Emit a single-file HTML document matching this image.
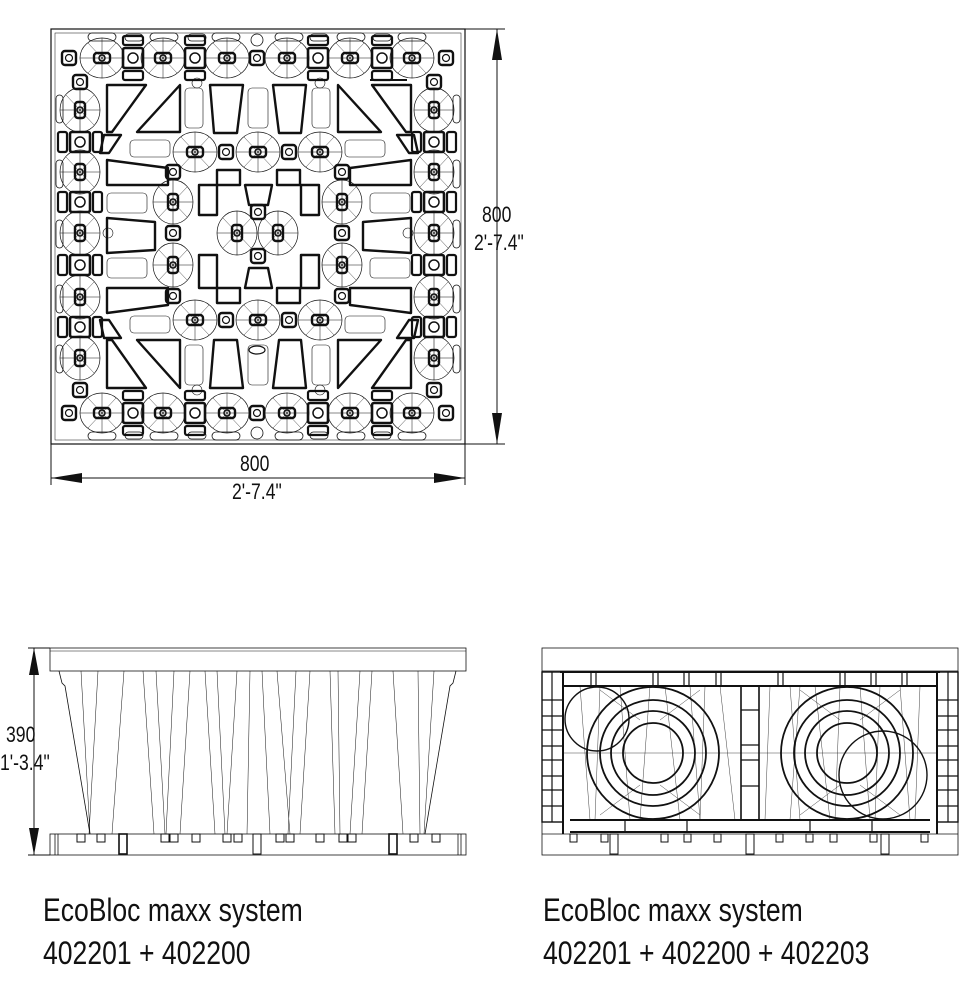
<!DOCTYPE html>
<html><head><meta charset="utf-8"><style>
html,body{margin:0;padding:0;background:#fff;}
body{width:973px;height:993px;position:relative;overflow:hidden;}
.t{position:absolute;font-family:"Liberation Sans",sans-serif;color:#111;white-space:nowrap;transform-origin:0 0;}
.d{font-size:22px;transform:scaleX(0.8);}
.c{font-size:32px;transform:scaleX(0.83);}
</style></head><body>
<svg width="973" height="993" viewBox="0 0 973 993" style="position:absolute;left:0;top:0" fill="none" stroke="#111">
<defs>
<g id="nd"><ellipse rx="22" ry="20" stroke-width="0.7"/><line x1="-22" y1="0" x2="22" y2="0" stroke-width="0.6"/><line x1="0" y1="-20" x2="0" y2="20" stroke-width="0.5"/><line x1="-14" y1="-15" x2="14" y2="15" stroke-width="0.4"/><line x1="-14" y1="15" x2="14" y2="-15" stroke-width="0.4"/><rect x="-8" y="-5" width="16" height="10" rx="3" stroke-width="2.4"/><circle r="3" stroke-width="1.5"/></g>
<g id="ndv"><ellipse rx="20" ry="22" stroke-width="0.7"/><line x1="0" y1="-22" x2="0" y2="22" stroke-width="0.6"/><line x1="-20" y1="0" x2="20" y2="0" stroke-width="0.5"/><line x1="-14" y1="-15" x2="14" y2="15" stroke-width="0.4"/><line x1="-14" y1="15" x2="14" y2="-15" stroke-width="0.4"/><rect x="-5" y="-8" width="10" height="16" rx="3" stroke-width="2.4"/><circle r="3" stroke-width="1.5"/></g>
<g id="sq"><rect x="-10" y="-10" width="20" height="20" rx="2" stroke-width="2.6"/><circle r="5" stroke-width="1.5"/><rect x="-10" y="-22" width="20" height="9" rx="2" stroke-width="2.2"/><rect x="-10" y="13" width="20" height="9" rx="2" stroke-width="2.2"/></g>
<g id="sqh"><rect x="-10" y="-10" width="20" height="20" rx="2" stroke-width="2.6"/><circle r="5" stroke-width="1.5"/><rect x="-22" y="-10" width="9" height="20" rx="2" stroke-width="2.2"/><rect x="13" y="-10" width="9" height="20" rx="2" stroke-width="2.2"/></g>
<g id="sm"><rect x="-7" y="-7" width="14" height="14" rx="3" stroke-width="2.4"/><circle r="3.5" stroke-width="1.2"/></g>
</defs>

<rect x="51" y="29" width="414" height="415" stroke-width="1.2"/>
<rect x="55" y="33" width="406" height="407" stroke-width="0.5"/>
<g>
<use href="#nd" x="102" y="58"/><use href="#nd" x="163" y="58"/><use href="#nd" x="227" y="58"/><use href="#nd" x="287" y="58"/><use href="#nd" x="350" y="58"/><use href="#nd" x="412" y="58"/>
<use href="#sq" x="133" y="58"/><use href="#sq" x="195" y="58"/><use href="#sm" x="257" y="58"/><use href="#sq" x="318" y="58"/><use href="#sq" x="382" y="58"/>
<use href="#nd" x="102" y="413"/><use href="#nd" x="163" y="413"/><use href="#nd" x="227" y="413"/><use href="#nd" x="287" y="413"/><use href="#nd" x="350" y="413"/><use href="#nd" x="412" y="413"/>
<use href="#sq" x="133" y="413"/><use href="#sq" x="195" y="413"/><use href="#sm" x="257" y="413"/><use href="#sq" x="318" y="413"/><use href="#sq" x="382" y="413"/>
<use href="#ndv" x="80" y="110"/><use href="#ndv" x="80" y="172"/><use href="#ndv" x="80" y="233"/><use href="#ndv" x="80" y="297"/><use href="#ndv" x="80" y="358"/>
<use href="#sqh" x="80" y="142"/><use href="#sqh" x="80" y="202"/><use href="#sqh" x="80" y="265"/><use href="#sqh" x="80" y="327"/>
<use href="#ndv" x="434" y="110"/><use href="#ndv" x="434" y="172"/><use href="#ndv" x="434" y="233"/><use href="#ndv" x="434" y="297"/><use href="#ndv" x="434" y="358"/>
<use href="#sqh" x="434" y="142"/><use href="#sqh" x="434" y="202"/><use href="#sqh" x="434" y="265"/><use href="#sqh" x="434" y="327"/>
<use href="#sm" x="69" y="58"/><use href="#sm" x="446" y="58"/><use href="#sm" x="69" y="413"/><use href="#sm" x="446" y="413"/>
<use href="#sm" x="80" y="82"/><use href="#sm" x="434" y="82"/><use href="#sm" x="80" y="390"/><use href="#sm" x="434" y="390"/>
<g stroke-width="0.8">
<rect x="88" y="33" width="28" height="8" rx="4"/><rect x="125" y="34" width="18" height="7" rx="3.5"/><rect x="150" y="33" width="28" height="8" rx="4"/><rect x="188" y="34" width="18" height="7" rx="3.5"/><rect x="212" y="33" width="28" height="8" rx="4"/>
<rect x="275" y="33" width="28" height="8" rx="4"/><rect x="310" y="34" width="18" height="7" rx="3.5"/><rect x="337" y="33" width="28" height="8" rx="4"/><rect x="373" y="34" width="18" height="7" rx="3.5"/><rect x="398" y="33" width="28" height="8" rx="4"/>
<rect x="88" y="432" width="28" height="8" rx="4"/><rect x="125" y="432" width="18" height="7" rx="3.5"/><rect x="150" y="432" width="28" height="8" rx="4"/><rect x="188" y="432" width="18" height="7" rx="3.5"/><rect x="212" y="432" width="28" height="8" rx="4"/>
<rect x="275" y="432" width="28" height="8" rx="4"/><rect x="310" y="432" width="18" height="7" rx="3.5"/><rect x="337" y="432" width="28" height="8" rx="4"/><rect x="373" y="432" width="18" height="7" rx="3.5"/><rect x="398" y="432" width="28" height="8" rx="4"/>
<rect x="56" y="95" width="7" height="28" rx="3.5"/><rect x="56" y="160" width="7" height="28" rx="3.5"/><rect x="56" y="220" width="7" height="28" rx="3.5"/><rect x="56" y="285" width="7" height="28" rx="3.5"/><rect x="56" y="345" width="7" height="28" rx="3.5"/>
<rect x="453" y="95" width="7" height="28" rx="3.5"/><rect x="453" y="160" width="7" height="28" rx="3.5"/><rect x="453" y="220" width="7" height="28" rx="3.5"/><rect x="453" y="285" width="7" height="28" rx="3.5"/><rect x="453" y="345" width="7" height="28" rx="3.5"/>
<circle cx="257" cy="40" r="6"/><circle cx="257" cy="433" r="6"/>
</g>
</g>
<g stroke-width="2.4" stroke-linejoin="round">
<path d="M210 85 L243 85 L237 133 L214 133 Z"/><path d="M273 85 L306 85 L301 133 L279 133 Z"/>
<path d="M210 388 L243 388 L237 340 L214 340 Z"/><path d="M273 388 L306 388 L301 340 L279 340 Z"/>
<path d="M107 85 L146 85 L112 132 L107 132 Z"/><path d="M180 85 L180 132 L137 132 Z"/>
<path d="M411 85 L372 85 L406 132 L411 132 Z"/><path d="M338 85 L338 132 L381 132 Z"/>
<path d="M107 388 L146 388 L112 340 L107 340 Z"/><path d="M180 388 L180 340 L137 340 Z"/>
<path d="M411 388 L372 388 L406 340 L411 340 Z"/><path d="M338 388 L338 340 L381 340 Z"/>
<path d="M107 160 L168 168 L168 185 L107 185 Z"/><path d="M411 160 L350 168 L350 185 L411 185 Z"/>
<path d="M107 313 L168 305 L168 288 L107 288 Z"/><path d="M411 313 L350 305 L350 288 L411 288 Z"/>
<path d="M107 218 L155 222 L155 250 L107 253 Z"/><path d="M411 218 L363 222 L363 250 L411 253 Z"/>
<path d="M104 135 L121 135 L109 153 L100 153 Z"/><path d="M414 135 L397 135 L409 153 L418 153 Z"/>
<path d="M104 338 L121 338 L109 320 L100 320 Z"/><path d="M414 338 L397 338 L409 320 L418 320 Z"/>
<path d="M199 185 L217 185 L217 215 L199 215 Z"/><path d="M301 185 L319 185 L319 215 L301 215 Z"/>
<path d="M199 255 L217 255 L217 288 L199 288 Z"/><path d="M301 255 L319 255 L319 288 L301 288 Z"/>
<path d="M217 170 L240 170 L240 185 L217 185 Z"/><path d="M277 170 L300 170 L300 185 L277 185 Z"/>
<path d="M217 288 L240 288 L240 303 L217 303 Z"/><path d="M277 288 L300 288 L300 303 L277 303 Z"/>
<path d="M245 185 L272 185 L268 205 L249 205 Z"/><path d="M245 288 L272 288 L268 268 L249 268 Z"/>
</g>
<use href="#nd" x="195" y="152"/><use href="#nd" x="258" y="152"/><use href="#nd" x="320" y="152"/>
<use href="#nd" x="195" y="320"/><use href="#nd" x="258" y="320"/><use href="#nd" x="320" y="320"/>
<use href="#sm" x="226" y="152"/><use href="#sm" x="289" y="152"/><use href="#sm" x="226" y="320"/><use href="#sm" x="289" y="320"/>
<use href="#ndv" x="173" y="202"/><use href="#ndv" x="173" y="265"/><use href="#ndv" x="342" y="202"/><use href="#ndv" x="342" y="265"/>
<use href="#sm" x="173" y="233"/><use href="#sm" x="342" y="233"/><use href="#sm" x="173" y="172"/><use href="#sm" x="342" y="172"/><use href="#sm" x="173" y="296"/><use href="#sm" x="342" y="296"/>
<use href="#ndv" x="237" y="233"/><use href="#ndv" x="278" y="233"/>
<use href="#sm" x="258" y="212"/><use href="#sm" x="258" y="256"/>
<g stroke-width="0.6">
<rect x="185" y="88" width="18" height="40" rx="4"/><rect x="248" y="88" width="20" height="40" rx="4"/><rect x="312" y="88" width="18" height="40" rx="4"/>
<rect x="185" y="345" width="18" height="40" rx="4"/><rect x="248" y="345" width="20" height="40" rx="4"/><rect x="312" y="345" width="18" height="40" rx="4"/>
<rect x="130" y="140" width="40" height="17" rx="4"/><rect x="345" y="140" width="40" height="17" rx="4"/><rect x="130" y="316" width="40" height="17" rx="4"/><rect x="345" y="316" width="40" height="17" rx="4"/>
<rect x="107" y="193" width="40" height="20" rx="4"/><rect x="370" y="193" width="40" height="20" rx="4"/><rect x="107" y="258" width="40" height="20" rx="4"/><rect x="370" y="258" width="40" height="20" rx="4"/>
<circle cx="197" cy="83" r="5"/><circle cx="320" cy="83" r="5"/><circle cx="197" cy="390" r="5"/><circle cx="320" cy="390" r="5"/>
<circle cx="108" cy="233" r="5"/><circle cx="408" cy="233" r="5"/><ellipse cx="257" cy="350" rx="8" ry="4" stroke-width="1.2"/>
<line x1="370" y1="80" x2="407" y2="80" stroke-width="2"/>
</g>
<g stroke-width="1">
<line x1="465" y1="29" x2="505" y2="29"/><line x1="465" y1="444" x2="505" y2="444"/>
<line x1="497" y1="29" x2="497" y2="444"/>
<line x1="51" y1="444" x2="51" y2="485"/><line x1="465" y1="444" x2="465" y2="485"/>
<line x1="51" y1="478" x2="465" y2="478"/>
</g>
<g fill="#111" stroke="none">
<path d="M497 29 L492 60 L502 60 Z"/><path d="M497 444 L492 413 L502 413 Z"/>
<path d="M51 478 L82 473 L82 483 Z"/><path d="M465 478 L434 473 L434 483 Z"/>
</g>

<g stroke-width="0.8">
<rect x="50" y="648" width="416" height="23"/>
<line x1="50" y1="651" x2="466" y2="651" stroke-width="0.5"/>
<path d="M59 671 L62 683 L65 686 L90 834"/><path d="M456 671 L453 683 L450 686 L425 834"/>
<rect x="50" y="834" width="416" height="21"/>
<line x1="55" y1="834" x2="55" y2="855"/><line x1="58" y1="834" x2="58" y2="855"/><line x1="461" y1="834" x2="461" y2="855"/><line x1="458" y1="834" x2="458" y2="855"/>
</g>
<g stroke-width="0.5">
<path d="M81 671 L90 834 M98 671 L89 834 M124 671 L112 834 M143 671 L154 834 M156 671 L165 834 M174 671 L166 834 M190 671 L180 834 M205 671 L215 834 M217 671 L225 834 M237 671 L227 834 M250 671 L247 834 M262 671 L270 834 M277 671 L290 834 M296 671 L288 834 M310 671 L300 834 M330 671 L335 834 M338 671 L340 834 M360 671 L350 834 M372 671 L362 834 M393 671 L403 834 M418 671 L420 834 M434 671 L424 834"/>
</g>
<g stroke-width="1">
<rect x="77" y="834" width="8" height="8"/><rect x="97" y="834" width="8" height="8"/><rect x="161" y="834" width="8" height="8"/><rect x="170" y="834" width="8" height="8"/><rect x="192" y="834" width="8" height="8"/><rect x="223" y="834" width="8" height="8"/><rect x="234" y="834" width="8" height="8"/><rect x="276" y="834" width="8" height="8"/><rect x="286" y="834" width="8" height="8"/><rect x="316" y="834" width="8" height="8"/><rect x="339" y="834" width="8" height="8"/><rect x="348" y="834" width="8" height="8"/><rect x="410" y="834" width="8" height="8"/><rect x="432" y="834" width="8" height="8"/>
<rect x="119" y="834" width="8" height="20" stroke-width="1.6"/><rect x="389" y="834" width="8" height="20" stroke-width="1.6"/><rect x="253" y="834" width="8" height="20"/>
</g>
<g stroke-width="1">
<line x1="28" y1="648" x2="50" y2="648"/><line x1="28" y1="855" x2="50" y2="855"/>
<line x1="34" y1="648" x2="34" y2="855"/>
</g>
<g fill="#111" stroke="none"><path d="M34 648 L29 675 L39 675 Z"/><path d="M34 855 L29 828 L39 828 Z"/></g>

<g stroke-width="0.8">
<rect x="542" y="648" width="416" height="207"/>
<line x1="542" y1="671" x2="958" y2="671"/>
<line x1="542" y1="834" x2="958" y2="834"/>
</g>
<g stroke-width="2">
<line x1="560" y1="672" x2="940" y2="672"/>
<line x1="563" y1="686" x2="937" y2="686"/>
<line x1="563" y1="672" x2="563" y2="834"/><line x1="937" y1="672" x2="937" y2="834"/>
<line x1="570" y1="820" x2="930" y2="820"/><line x1="570" y1="832" x2="930" y2="832"/>
<rect x="542" y="672" width="21" height="150" stroke-width="1.4"/><rect x="937" y="672" width="21" height="150" stroke-width="1.4"/>
<rect x="741" y="686" width="18" height="134" stroke-width="1.6"/>
</g>
<g stroke-width="1.2">
<line x1="542" y1="700" x2="563" y2="700"/><line x1="542" y1="716" x2="563" y2="716"/><line x1="542" y1="730" x2="563" y2="730"/><line x1="542" y1="746" x2="563" y2="746"/><line x1="542" y1="760" x2="563" y2="760"/><line x1="542" y1="776" x2="563" y2="776"/><line x1="542" y1="790" x2="563" y2="790"/><line x1="542" y1="806" x2="563" y2="806"/>
<line x1="937" y1="700" x2="958" y2="700"/><line x1="937" y1="716" x2="958" y2="716"/><line x1="937" y1="730" x2="958" y2="730"/><line x1="937" y1="746" x2="958" y2="746"/><line x1="937" y1="760" x2="958" y2="760"/><line x1="937" y1="776" x2="958" y2="776"/><line x1="937" y1="790" x2="958" y2="790"/><line x1="937" y1="806" x2="958" y2="806"/>
<line x1="552" y1="672" x2="552" y2="822"/><line x1="948" y1="672" x2="948" y2="822"/>
<line x1="741" y1="710" x2="759" y2="710"/><line x1="741" y1="745" x2="759" y2="745"/><line x1="741" y1="760" x2="759" y2="760"/><line x1="741" y1="786" x2="759" y2="786"/>
<rect x="591" y="672" width="5" height="14"/><rect x="653" y="672" width="5" height="14"/><rect x="684" y="672" width="5" height="14"/><rect x="716" y="672" width="5" height="14"/><rect x="778" y="672" width="5" height="14"/><rect x="840" y="672" width="5" height="14"/><rect x="871" y="672" width="5" height="14"/><rect x="902" y="672" width="5" height="14"/>
<line x1="625" y1="820" x2="625" y2="832"/><line x1="687" y1="820" x2="687" y2="832"/><line x1="810" y1="820" x2="810" y2="832"/><line x1="872" y1="820" x2="872" y2="832"/>
</g>
<g stroke-width="0.4">
<path d="M580 686 L590 820 M600 686 L595 820 M620 686 L630 820 M650 686 L640 820 M665 686 L680 820 M690 686 L700 820 M705 686 L700 820 M720 686 L735 820 M770 686 L765 820 M790 686 L800 820 M800 686 L790 820 M815 686 L830 820 M840 686 L835 820 M860 686 L870 820 M880 686 L875 820 M900 686 L910 820 M920 686 L915 820"/>
<path d="M600 690 L640 720 M700 690 L660 720 M600 815 L640 785 M700 815 L660 785 M800 690 L840 720 M900 690 L860 720 M800 815 L840 785 M900 815 L860 785 M563 753 L937 753"/>
</g>
<g stroke-width="1.8">
<circle cx="653" cy="753" r="66"/><circle cx="653" cy="753" r="53"/><circle cx="653" cy="753" r="42"/><circle cx="653" cy="753" r="30"/>
<circle cx="847" cy="753" r="66"/><circle cx="847" cy="753" r="53"/><circle cx="847" cy="753" r="42"/><circle cx="847" cy="753" r="30"/>
<circle cx="597" cy="719" r="32" stroke-width="1.4"/><circle cx="883" cy="775" r="44" stroke-width="1.4"/>
</g>
<g stroke-width="1">
<rect x="570" y="834" width="7" height="8"/><rect x="601" y="834" width="7" height="8"/><rect x="661" y="834" width="7" height="8"/><rect x="684" y="834" width="7" height="8"/><rect x="714" y="834" width="7" height="8"/><rect x="776" y="834" width="7" height="8"/><rect x="806" y="834" width="7" height="8"/><rect x="830" y="834" width="7" height="8"/><rect x="870" y="834" width="7" height="8"/><rect x="921" y="834" width="7" height="8"/>
<rect x="610" y="834" width="8" height="20"/><rect x="746" y="834" width="8" height="20"/><rect x="881" y="834" width="8" height="20"/>
</g>
</svg>

<div class="t d" style="left:482px;top:202px;">800</div>
<div class="t d" style="left:474px;top:230px;">2'-7.4"</div>
<div class="t d" style="left:240px;top:451px;">800</div>
<div class="t d" style="left:232px;top:479px;">2'-7.4"</div>
<div class="t d" style="left:6px;top:722px;">390</div>
<div class="t d" style="left:0px;top:750px;">1'-3.4"</div>
<div class="t c" style="left:43px;top:892px;">EcoBloc maxx system</div>
<div class="t c" style="left:43px;top:935px;">402201 + 402200</div>
<div class="t c" style="left:543px;top:892px;">EcoBloc maxx system</div>
<div class="t c" style="left:543px;top:935px;">402201 + 402200 + 402203</div>
</body></html>
